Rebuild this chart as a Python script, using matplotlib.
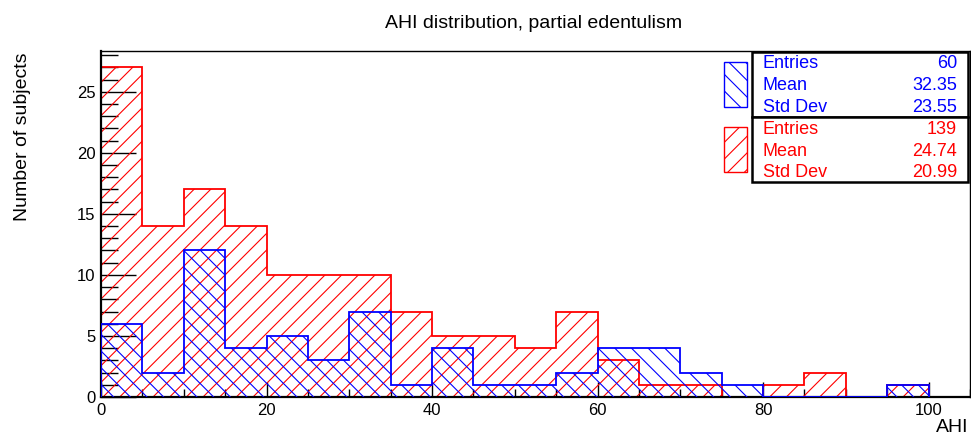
import numpy as np
import matplotlib
matplotlib.use("Agg")
import matplotlib.pyplot as plt
from matplotlib.patches import Rectangle
from matplotlib.ticker import MultipleLocator

plt.rcParams['font.family'] = ['Liberation Sans', 'DejaVu Sans']
plt.rcParams['hatch.linewidth'] = 0.8

# bin edges, AHI 0..100 in steps of 5
edges = np.arange(0, 105, 5)
# counts per bin
full_counts = [27, 14, 17, 14, 10, 10, 10, 7, 5, 5, 4, 7, 3, 1, 1, 0, 1, 2, 0, 1]
partial_counts = [6, 2, 12, 4, 5, 3, 7, 1, 4, 1, 1, 2, 4, 4, 2, 1, 0, 0, 0, 1]

stat_labels = ["Entries", "Mean", "Std Dev"]
partial_stats = ["60", "32.35", "23.55"]
full_stats = ["139", "24.74", "20.99"]

fig = plt.figure(figsize=(9.71, 4.36), dpi=100)
ax = fig.add_axes([0.104, 0.0894, 0.895, 0.794])

ax.stairs(full_counts, edges, fill=True, facecolor='none', edgecolor='red',
          hatch='//', linewidth=1.3, zorder=2)
ax.stairs(partial_counts, edges, fill=True, facecolor='none', edgecolor='blue',
          hatch='\\\\', linewidth=1.3, zorder=3)

ax.set_xlim(0, 105)
ax.set_ylim(0, 28.35)

ax.xaxis.set_major_locator(MultipleLocator(20))
ax.xaxis.set_minor_locator(MultipleLocator(5))
ax.yaxis.set_major_locator(MultipleLocator(5))
ax.yaxis.set_minor_locator(MultipleLocator(1))
ax.tick_params(axis='x', which='major', direction='in', length=11, width=1,
               labelsize=12, pad=4, top=False)
ax.tick_params(axis='x', which='minor', direction='in', length=6, width=1, top=False)
ax.tick_params(axis='y', which='major', direction='in', length=25, width=1,
               labelsize=12, pad=4, right=False)
ax.tick_params(axis='y', which='minor', direction='in', length=12, width=1, right=False)

for s in ['left', 'bottom']:
    ax.spines[s].set_linewidth(1.6)
for s in ['top', 'right']:
    ax.spines[s].set_linewidth(1.0)

fig.text(0.549, 0.945, "AHI distribution, partial edentulism", ha='center', va='center', fontsize=14)
fig.text(0.0227, 0.686, "Number of subjects", rotation=90, ha='center', va='center', fontsize=14)
fig.text(0.997, 0.0, "AHI", ha='right', va='bottom', fontsize=14)

# stats boxes
W, H = 971, 436
def fx(px):
    return px / W
def fy(py):
    return 1 - py / H

for top, bot, col, vals in [(52, 117, 'blue', partial_stats), (117, 182, 'red', full_stats)]:
    fig.patches.append(Rectangle((fx(752), fy(bot)), fx(968) - fx(752), fy(top) - fy(bot),
                                 transform=fig.transFigure, facecolor='white',
                                 edgecolor='black', linewidth=1.8, zorder=5))
    row_y = [top + 12, top + 34, top + 55]
    for lab, val, yy in zip(stat_labels, vals, row_y):
        fig.text(fx(763), fy(yy), lab, color=col, ha='left', va='center', fontsize=13, zorder=6)
        fig.text(fx(957), fy(yy), val, color=col, ha='right', va='center', fontsize=13, zorder=6)

# hatched swatches next to the stats
fig.patches.append(Rectangle((fx(724), fy(107)), fx(23), 45 / H, transform=fig.transFigure,
                             facecolor='white', edgecolor='blue', hatch='\\\\', linewidth=1.0, zorder=5))
fig.patches.append(Rectangle((fx(724), fy(172)), fx(23), 45 / H, transform=fig.transFigure,
                             facecolor='white', edgecolor='red', hatch='//', linewidth=1.0, zorder=5))

fig.savefig("out.png", dpi=100)
